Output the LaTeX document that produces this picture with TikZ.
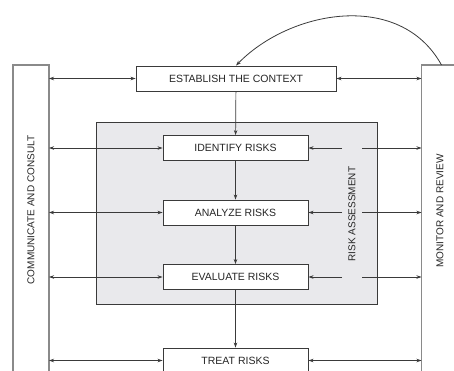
\documentclass[tikz,border=0pt]{standalone}
\usepackage{fontspec}
\setmainfont{Liberation Sans}
\usetikzlibrary{arrows.meta}
\definecolor{linegray}{HTML}{3A3A3A}
\definecolor{bargray}{HTML}{8A8A8A}
\definecolor{panelgray}{HTML}{E9E9EC}
\begin{document}
\begin{tikzpicture}[x=1pt,y=-1pt,
  stepbox/.style={draw=linegray,line width=0.9pt,fill=white,minimum width=145pt,minimum height=25pt,
    inner sep=0pt,font=\fontsize{10.5}{12}\selectfont,text=black!85},
  bar/.style={draw=bargray,line width=1.3pt},
  flow/.style={draw=linegray,line width=0.7pt,-{Stealth[length=5pt,width=3.5pt]}},
  both/.style={draw=linegray,line width=0.7pt,{Stealth[length=5pt,width=3.5pt]}-{Stealth[length=5pt,width=3.5pt]}},
  sidelabel/.style={rotate=90,font=\fontsize{10}{12}\selectfont,text=black!85}]
\useasboundingbox (0,0) rectangle (454,370);
\begin{scope}
\clip (0,0) rectangle (454,370);
% side bars
\draw[bar] (13,400) -- (13,65) -- (49,65) -- (49,400);
\draw[bar] (421.5,400) -- (421.5,65) -- (470,65);
\coordinate (cl) at (49,0);
\coordinate (cr) at (421.5,0);
% risk assessment panel
\draw[draw=linegray,line width=0.9pt,fill=panelgray] (96,122) rectangle (377,304);
\node[sidelabel] (ra) at (352,214) {RISK ASSESSMENT};
% process steps
\node[stepbox,minimum width=200pt] (ctx) at (236,78.5) {ESTABLISH THE CONTEXT};
\node[stepbox] (id) at (235.5,148) {IDENTIFY RISKS};
\node[stepbox] (an) at (235.5,212.5) {ANALYZE RISKS};
\node[stepbox] (ev) at (235.5,277) {EVALUATE RISKS};
\node[stepbox] (tr) at (235.5,360.5) {TREAT RISKS};
% side labels
\node[sidelabel] (cc) at (31,210) {COMMUNICATE AND CONSULT};
\node[sidelabel] (mr) at (440,211) {MONITOR AND REVIEW};
% main flow
\draw[flow] (ctx) -- (id);
\draw[flow] (id) -- (an);
\draw[flow] (an) -- (ev);
\draw[flow] (ev) -- (tr);
% links to communicate and consult
\foreach \n in {ctx,id,an,ev,tr}
  \draw[both] (cl |- \n.west) -- (\n.west);
% links to monitor and review
\draw[both] (ctx.east) -- (cr |- ctx.east);
\draw[both] (tr.east) -- (cr |- tr.east);
\foreach \n in {id,an,ev}{
  \coordinate (g1) at (342,0);
  \coordinate (g2) at (362,0);
  \draw[flow] (g1 |- \n.east) -- (\n.east);
  \draw[flow] (g2 |- \n.east) -- (cr |- \n.east);
}
% feedback arc
\coordinate (fb) at (441.5,65);
\draw[flow,line width=0.8pt] (fb) .. controls (400,-10) and (290,10) .. (ctx.north);
\end{scope}
\end{tikzpicture}
\end{document}
